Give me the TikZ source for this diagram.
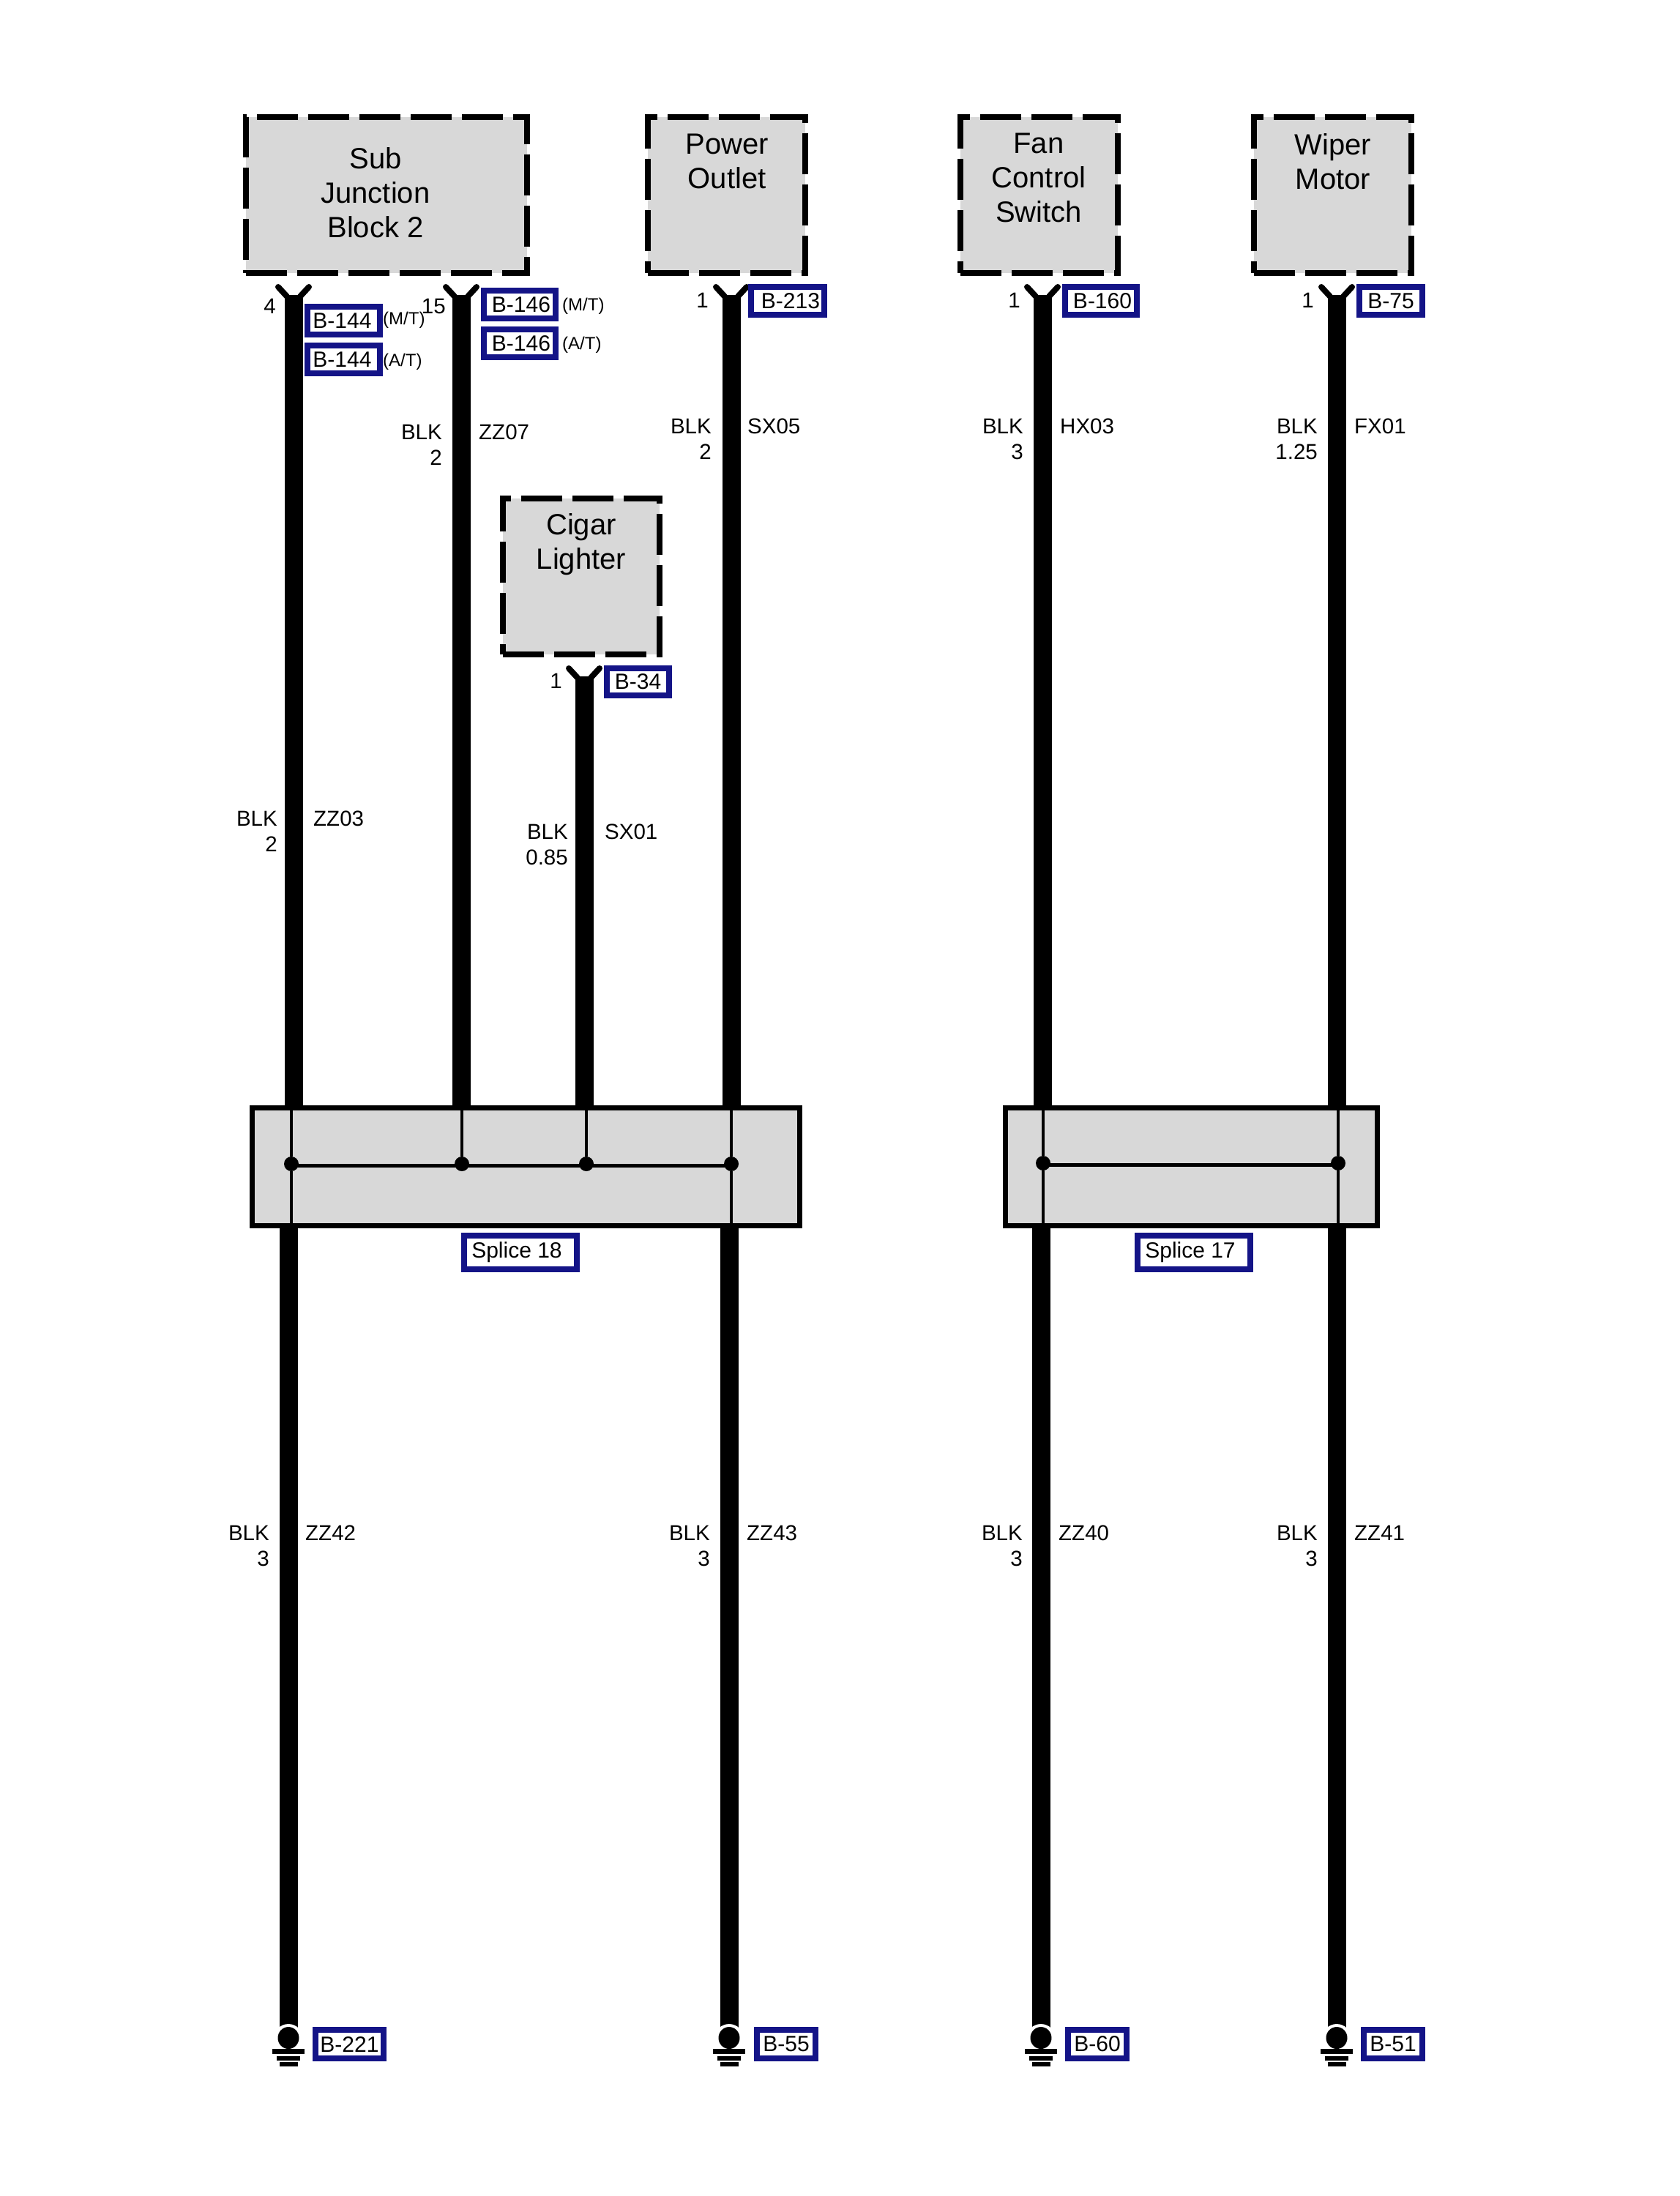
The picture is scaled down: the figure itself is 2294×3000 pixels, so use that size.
\documentclass[tikz,border=0pt]{standalone}
\usepackage{fontspec}
\setmainfont{Liberation Sans}
\definecolor{tagblue}{RGB}{20,20,135}
\definecolor{boxgray}{RGB}{216,216,216}
\tikzset{
  comp/.style={draw=black,fill=boxgray,line width=8pt,dash pattern=on 56pt off 14pt,anchor=north west,inner sep=0pt,outer sep=0pt},
  splicebox/.style={draw=black,fill=boxgray,line width=7pt,anchor=north west,inner sep=0pt,outer sep=0pt},
  ctitle/.style={align=center,font=\fontsize{40}{47}\selectfont,anchor=north,inner sep=0pt},
  wire/.style={line width=25pt,black},
  thin wire/.style={line width=3.5pt,black},
  bus/.style={line width=5pt,black},
  tagbox/.style={draw=tagblue,line width=7.5pt,fill=white,font=\fontsize{30}{30}\selectfont,minimum height=38pt,inner sep=0pt,outer sep=0pt,anchor=north west},
  txt/.style={font=\fontsize{29.5}{35}\selectfont,inner sep=0pt},
  rlab/.style={txt,align=right,anchor=north east},
  llab/.style={txt,anchor=north west},
  pin/.style={txt,anchor=base east},
  note/.style={font=\fontsize{24}{24}\selectfont,inner sep=0pt,anchor=west},
  fork/.style={line width=8pt,black,line cap=round},
  dot/.style={circle,fill=black,inner sep=0pt,minimum size=20pt},
  gnd/.style={fill=black,inner sep=0pt,outer sep=0pt,anchor=center}
}
\begin{document}
\begin{tikzpicture}[x=1pt,y=-1pt]
\useasboundingbox (0,0) rectangle (2294,3000);
\fill[white] (0,0) rectangle (2294,3000);
% components
\node[comp,minimum width=384pt,minimum height=213pt] (sub) at (336,160) {};
\node[comp,minimum width=215pt,minimum height=213pt] (pow) at (885,160) {};
\node[comp,minimum width=215pt,minimum height=213pt] (fan) at (1312,160) {};
\node[comp,minimum width=215pt,minimum height=213pt] (wip) at (1713,160) {};
\node[comp,minimum width=214pt,minimum height=213pt] (cig) at (687,681) {};
\node[ctitle] (subt) at (513,201) {Sub\\Junction\\Block 2};
\node[ctitle] (powt) at (993,183) {Power\\Outlet};
\node[ctitle] (fant) at (1419,182) {Fan\\Control\\Switch};
\node[ctitle] (wipt) at (1821,182) {Wiper\\Motor};
\node[ctitle] (cigt) at (794,701) {Cigar\\Lighter};
% splice boxes
\node[splicebox,minimum width=748pt,minimum height=161pt] (s18) at (344,1513) {};
\node[splicebox,minimum width=508pt,minimum height=161pt] (s17) at (1373,1513) {};
% pins
\coordinate (p1) at (401,403);
\coordinate (p2) at (630,403);
\coordinate (p3) at (798,924);
\coordinate (p4) at (999,403);
\coordinate (p5) at (1424,403);
\coordinate (p6) at (1826,403);
\coordinate (g1) at (394,2784);
\coordinate (g2) at (996,2784);
\coordinate (g3) at (1422,2784);
\coordinate (g4) at (1826,2784);
% wires
\draw[wire] (p1) -- (p1 |- s18.north);
\draw[wire] (p2) -- (p2 |- s18.north);
\draw[wire] (p3) -- (p3 |- s18.north);
\draw[wire] (p4) -- (p4 |- s18.north);
\draw[wire] (p5) -- (p5 |- s17.north);
\draw[wire] (p6) -- (p6 |- s17.north);
\draw[wire] (g1 |- s18.south) -- (g1);
\draw[wire] (g2 |- s18.south) -- (g2);
\draw[wire] (g3 |- s17.south) -- (g3);
\draw[wire] (g4 |- s17.south) -- (g4);
% connector forks
\foreach \p in {p1,p2,p3,p4,p5,p6}{
  \draw[fork] ([xshift=-21pt,yshift=11pt]\p) -- ([xshift=-9pt,yshift=-2pt]\p);
  \draw[fork] ([xshift=21pt,yshift=11pt]\p) -- ([xshift=9pt,yshift=-2pt]\p);
}
% splice inner
\node[dot] (d1) at (398,1590) {};
\node[dot] (d2) at (631,1590) {};
\node[dot] (d3) at (801,1590) {};
\node[dot] (d4) at (999,1590) {};
\node[dot] (d5) at (1425,1589) {};
\node[dot] (d6) at (1828,1589) {};
\draw[bus] ([yshift=-2pt]d1.center) -- ([yshift=-2pt]d2.center);
\draw[bus] ([yshift=-2pt]d2.center) -- ([yshift=-2pt]d3.center);
\draw[bus] ([yshift=-2pt]d3.center) -- ([yshift=-2pt]d4.center);
\draw[bus] ([yshift=-2pt]d5.center) -- ([yshift=-2pt]d6.center);
\draw[thin wire] (d1 |- s18.north) -- (d1);
\draw[thin wire] (d2 |- s18.north) -- (d2);
\draw[thin wire] (d3 |- s18.north) -- (d3);
\draw[thin wire] (d4 |- s18.north) -- (d4);
\draw[thin wire] (d1) -- (d1 |- s18.south);
\draw[thin wire] (d4) -- (d4 |- s18.south);
\draw[thin wire] (d5 |- s17.north) -- (d5);
\draw[thin wire] (d6 |- s17.north) -- (d6);
\draw[thin wire] (d5) -- (d5 |- s17.south);
\draw[thin wire] (d6) -- (d6 |- s17.south);
% grounds
\foreach \g in {g1,g2,g3,g4}{
  \fill[white] ([yshift=-1pt]\g) circle (20pt);
  \fill[white] ([yshift=-8pt]\g) ellipse (20pt and 14pt);
  \fill[black] (\g) ellipse (14.5pt and 15pt);
  \node[gnd,minimum width=44pt,minimum height=7pt] at ([yshift=-18.5pt]\g) {};
  \node[gnd,minimum width=32pt,minimum height=6pt] at ([yshift=-28pt]\g) {};
  \node[gnd,minimum width=25pt,minimum height=6pt] at ([yshift=-36pt]\g) {};
}
% tags
\node[tagbox,minimum width=99pt] (t144m) at (420,419) {B-144\kern4pt};
\node[tagbox,minimum width=99pt] (t144a) at (420,472) {B-144\kern4pt};
\node[tagbox,minimum width=98pt] (t146m) at (661,397) {\kern4pt B-146};
\node[tagbox,minimum width=98pt] (t146a) at (661,450) {\kern4pt B-146};
\node[tagbox,minimum width=100pt] (t213) at (1026,392) {\kern8pt B-213};
\node[tagbox,minimum width=98pt] (t160) at (1455,392) {\kern4pt B-160};
\node[tagbox,minimum width=86pt] (t75) at (1857,392) {B-75};
\node[tagbox,minimum width=85pt,minimum height=37pt] (t34) at (829,913) {B-34};
\node[tagbox,minimum width=154pt,minimum height=46pt] (ts18) at (634,1688) {Splice 18\kern10pt};
\node[tagbox,minimum width=154pt,minimum height=46pt] (ts17) at (1554,1688) {Splice 17\kern10pt};
\node[tagbox,minimum width=93pt,minimum height=39pt] (t221) at (431,2773) {B-221};
\node[tagbox,minimum width=80pt,minimum height=39pt] (t55) at (1034,2773) {B-55};
\node[tagbox,minimum width=80pt,minimum height=39pt] (t60) at (1459,2773) {B-60};
\node[tagbox,minimum width=80pt,minimum height=39pt] (t51) at (1863,2773) {B-51};
\node[note] (n1) at (523,437) {(M/T)};
\node[note] (n2) at (523,494) {(A/T)};
\node[note] (n3) at (768,418) {(M/T)};
\node[note] (n4) at (768,471) {(A/T)};
% pin numbers
\node[pin] (pn1) at (377,428) {4};
\node[pin] (pn2) at (609,428) {15};
\node[pin] (pn3) at (968,420) {1};
\node[pin] (pn4) at (1394,420) {1};
\node[pin] (pn5) at (1795,420) {1};
\node[pin] (pn6) at (768,940) {1};
% wire labels
\node[rlab] (b1) at (379,1108) {BLK\\2};
\node[llab] (c1) at (428,1108) {ZZ03};
\node[rlab] (b2) at (604,580) {BLK\\2};
\node[llab] (c2) at (654,580) {ZZ07};
\node[rlab] (b3) at (776,1126) {BLK\\0.85};
\node[llab] (c3) at (826,1126) {SX01};
\node[rlab] (b4) at (972,572) {BLK\\2};
\node[llab] (c4) at (1021,572) {SX05};
\node[rlab] (b5) at (1398,572) {BLK\\3};
\node[llab] (c5) at (1448,572) {HX03};
\node[rlab] (b6) at (1800,572) {BLK\\1.25};
\node[llab] (c6) at (1850,572) {FX01};
\node[rlab] (b7) at (368,2084) {BLK\\3};
\node[llab] (c7) at (417,2084) {ZZ42};
\node[rlab] (b8) at (970,2084) {BLK\\3};
\node[llab] (c8) at (1020,2084) {ZZ43};
\node[rlab] (b9) at (1397,2084) {BLK\\3};
\node[llab] (c9) at (1446,2084) {ZZ40};
\node[rlab] (b10) at (1800,2084) {BLK\\3};
\node[llab] (c10) at (1850,2084) {ZZ41};
\end{tikzpicture}
\end{document}
